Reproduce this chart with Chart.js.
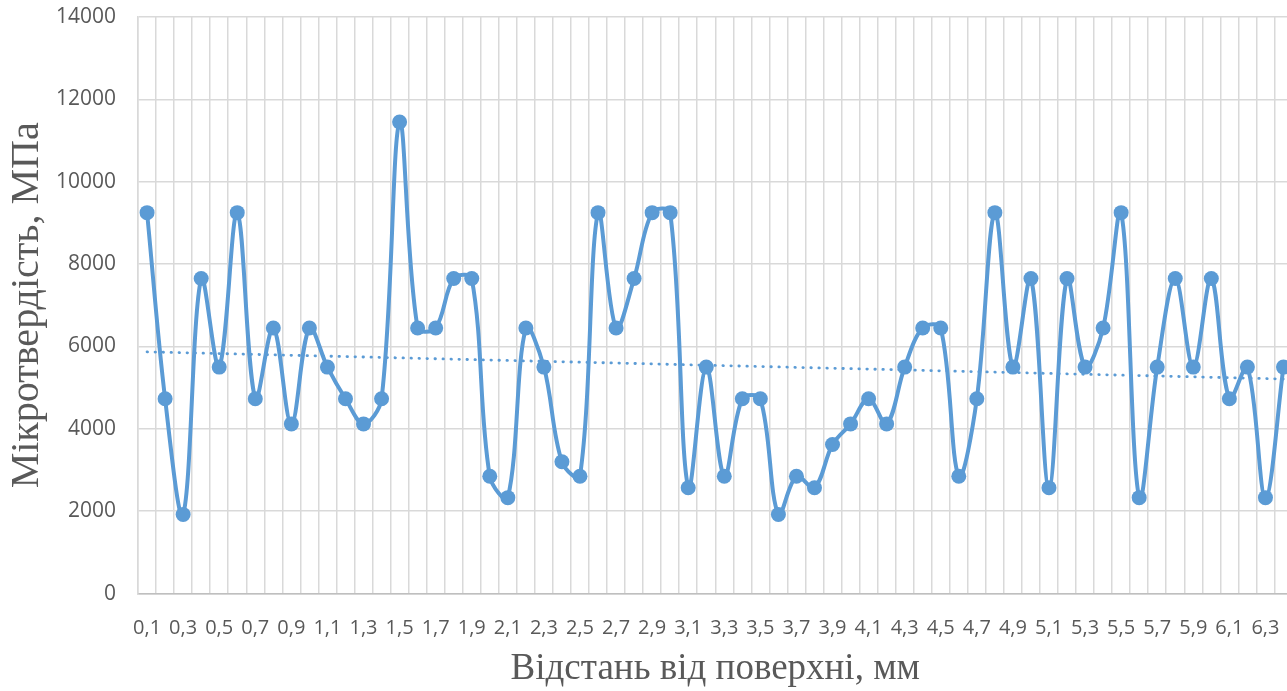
<!DOCTYPE html>
<html>
<head>
<meta charset="utf-8">
<script src="https://cdn.jsdelivr.net/npm/chart.js@4.4.1/dist/chart.umd.min.js"></script>
<style>
html,body{margin:0;padding:0;overflow:hidden;background:#fff;}
#wrap{width:1300px;height:691px;position:relative;}
</style>
</head>
<body>
<div id="wrap"><canvas id="c"></canvas></div>
<script>
const categories = ["0,1","0,2","0,3","0,4","0,5","0,6","0,7","0,8","0,9","1",
"1,1","1,2","1,3","1,4","1,5","1,6","1,7","1,8","1,9","2",
"2,1","2,2","2,3","2,4","2,5","2,6","2,7","2,8","2,9","3",
"3,1","3,2","3,3","3,4","3,5","3,6","3,7","3,8","3,9","4",
"4,1","4,2","4,3","4,4","4,5","4,6","4,7","4,8","4,9","5",
"5,1","5,2","5,3","5,4","5,5","5,6","5,7","5,8","5,9","6",
"6,1","6,2","6,3","6,4"];
const microhardness = [9250,4730,1920,7650,5500,9250,4730,6450,4120,6450,
5500,4730,4120,4730,11450,6450,6450,7650,7650,2850,
2330,6450,5500,3200,2850,9250,6450,7650,9250,9250,
2570,5500,2850,4730,4730,1920,2850,2570,3620,4120,
4730,4120,5500,6450,6450,2850,4730,9250,5500,7650,
2570,7650,5500,6450,9250,2330,5500,7650,5500,7650,
4730,5500,2330,5500];
const trendStart = 5870;
const trendEnd = 5210;
const yTicks = [0,2000,4000,6000,8000,10000,12000,14000];

const trend = categories.map((c,i)=> i===0 ? trendStart : (i===categories.length-1 ? trendEnd : null));
const blue = '#5b9bd5';

new Chart(document.getElementById('c'), {
  type: 'line',
  data: {
    labels: categories,
    datasets: [
      {
        data: microhardness,
        borderColor: blue,
        backgroundColor: blue,
        borderWidth: 4,
        pointRadius: 7.5,
        pointHoverRadius: 7.5,
        pointBackgroundColor: blue,
        pointBorderColor: blue,
        pointBorderWidth: 0,
        tension: 0.35,
        order: 1
      },
      {
        data: trend,
        borderColor: blue,
        borderWidth: 2.8,
        borderDash: [0.5, 7.5],
        borderCapStyle: 'round',
        pointRadius: 0,
        spanGaps: true,
        tension: 0,
        order: 2
      }
    ]
  },
  options: {
    responsive: true,
    maintainAspectRatio: false,
    animation: false,
    events: [],
    layout: { padding: { top: 17, left: 3, right: 4, bottom: 0 } },
    plugins: { legend: { display: false }, tooltip: { enabled: false } },
    scales: {
      x: {
        offset: true,
        grid: { offset: true, color: '#d9d9d9', lineWidth: 1.5, drawTicks: true, tickLength: 23, tickColor: 'rgba(0,0,0,0)' },
        border: { color: '#bfbfbf', width: 1.5 },
        ticks: {
          autoSkip: false, maxRotation: 0, minRotation: 0,
          color: '#595959', padding: 0,
          font: { family: '"Open Sans", "Liberation Sans", sans-serif', size: 20 },
          callback: function(v, i){ return i % 2 === 0 ? this.getLabelForValue(v) : ''; }
        },
        title: {
          display: true, text: 'Відстань від поверхні, мм', color: '#595959',
          font: { family: '"Liberation Serif", "DejaVu Serif", serif', size: 37 },
          padding: { top: 6, bottom: 0 }
        }
      },
      y: {
        min: 0, max: 14000,
        afterBuildTicks: (ax) => { ax.ticks = yTicks.map(v => ({ value: v })); },
        grid: { color: '#d9d9d9', lineWidth: 1.5, drawTicks: true, tickLength: 22, tickColor: 'rgba(0,0,0,0)' },
        border: { color: '#d9d9d9', width: 1.5 },
        ticks: {
          color: '#595959', padding: 0,
          font: { family: '"Open Sans", "Liberation Sans", sans-serif', size: 21 },
          callback: (v) => String(v)
        },
        title: {
          display: true, text: 'Мікротвердість, МПа', color: '#595959',
          font: { family: '"Liberation Serif", "DejaVu Serif", serif', size: 40 },
          padding: { top: 0, bottom: 5 }
        }
      }
    }
  }
});
</script>
</body>
</html>
